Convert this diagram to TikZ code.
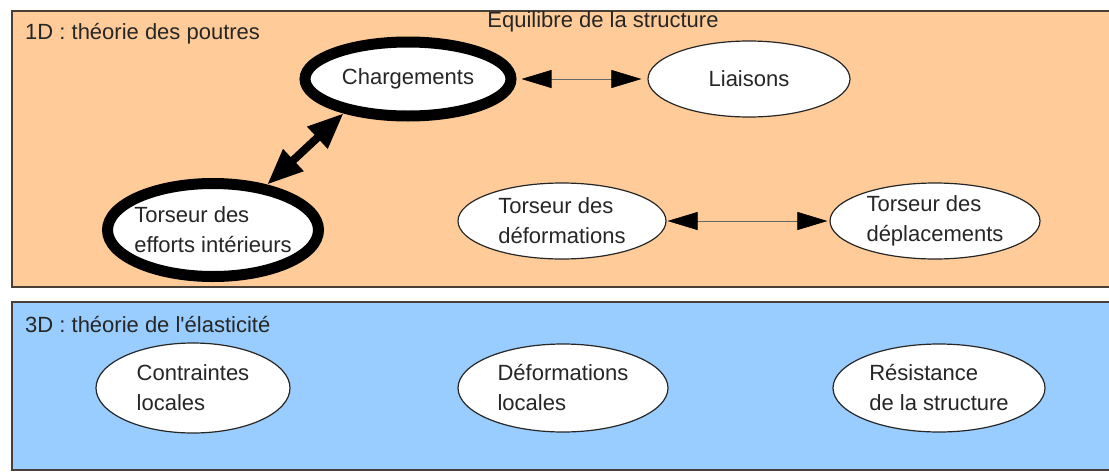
\documentclass[tikz,border=0pt]{standalone}
\usepackage{fontspec}
\setmainfont{Liberation Sans}
\usetikzlibrary{shapes.geometric,arrows.meta}
\definecolor{peach}{RGB}{255,204,153}
\definecolor{sky}{RGB}{153,204,255}
\definecolor{frame}{RGB}{72,64,56}
\tikzset{
    layer-box/.style = {draw=frame, line width=1.5pt},
    layer-title/.style = {anchor=west, inner sep=0pt},
    bubble/.style = {draw=black!85, fill=white, ellipse, line width=1.2pt, inner sep=0pt, align=left, minimum width=208pt, minimum height=76pt},
    thick-bubble/.style = {bubble, draw=black, line width=11pt},
    link/.style = {draw=black!60, line width=0.6pt, {Triangle[length=30pt,width=18pt,black]}-{Triangle[length=30pt,width=18pt,black]}},
    heavy-link/.style = {draw=black, line width=8pt, {Triangle[length=36pt,width=28pt]}-{Triangle[length=36pt,width=28pt]}},
}

\begin{document}
\begin{tikzpicture}[x=1pt, y=-1pt, font=\fontsize{22}{30}\selectfont, text=black!85]
\useasboundingbox (0,0) rectangle (1109,472);
% the two layers
\draw[layer-box, fill=peach] (12,11) rectangle (1118,287);
\draw[layer-box, fill=sky] (12,302) rectangle (1118,470);
\node[layer-title] (title1d) at (25,34) {1D : théorie des poutres};
\node[layer-title] (title3d) at (25,325) {3D : théorie de l\textquotesingle élasticité};
\node[inner sep=0pt] (equilibre) at (603,22) {Equilibre de la structure};

% 1D
\node[thick-bubble, minimum width=206pt, minimum height=74pt] (chargements) at (408,79) {Chargements};
\node[bubble, minimum width=202pt] (liaisons) at (749,79) {Liaisons};
\node[thick-bubble, minimum width=211pt, minimum height=93pt, inner xsep=-9pt] (efforts) at (213,230) {Torseur des\\efforts intérieurs};
\node[bubble] (deformations) at (562,221) {Torseur des\\déformations};
\node[bubble, minimum width=210pt] (deplacements) at (935,221) {Torseur des\\déplacements};

% 3D
\node[bubble, minimum width=194pt, minimum height=90pt] (contraintes) at (193,388) {Contraintes\\locales};
\node[bubble, minimum width=210pt, minimum height=88pt] (deflocales) at (563,388) {Déformations\\locales};
\node[bubble, minimum width=212pt, minimum height=88pt] (resistance) at (939,388) {Résistance\\de la structure};

\draw[link, shorten <=5pt, shorten >=6pt] (chargements.east) -- (liaisons.west);
\draw[link, shorten <=1pt, shorten >=2pt] (deformations.east) -- (deplacements.west);
\draw[heavy-link] (efforts.40) -- (chargements.208);
\end{tikzpicture}
\end{document}
